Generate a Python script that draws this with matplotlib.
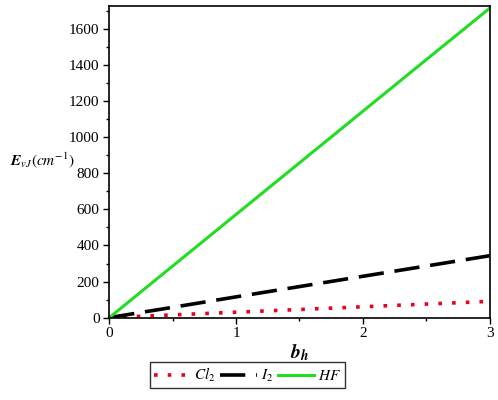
import numpy as np
import matplotlib
matplotlib.use("Agg")
import matplotlib.pyplot as plt
from matplotlib.ticker import MultipleLocator

# values at b_h = 0, 0.5, ..., 3
b_h = [0, 0.5, 1.0, 1.5, 2.0, 2.5, 3.0]
cl2 = [0, 15, 30, 45, 60, 75, 90]
i2 = [0, 57, 115, 172, 229, 286, 343]
hf = [0, 286, 572, 858, 1144, 1430, 1715]

plt.rcParams["font.family"] = "Liberation Serif"
plt.rcParams["mathtext.fontset"] = "stix"

fig = plt.figure(figsize=(4.98, 4.0), dpi=100)
ax = fig.add_axes([0.2195, 0.206, 0.7635, 0.779])

ax.plot(b_h, cl2, color="#e8001c", lw=2.6, ls=(0, (1.0, 2.8)), label=r"$Cl_2$")
ax.plot(b_h, i2, color="black", lw=2.6, ls=(0, (7.0, 3.0)), label=r"$I_2$")
ax.plot(b_h, hf, color="#22dd22", lw=2.2, label=r"$HF$")

ax.set_xlim(0, 3)
ax.set_ylim(0, 1728)
ax.xaxis.set_major_locator(MultipleLocator(1))
ax.xaxis.set_minor_locator(MultipleLocator(0.5))
ax.yaxis.set_major_locator(MultipleLocator(200))
ax.yaxis.set_minor_locator(MultipleLocator(100))
ax.tick_params(which="major", length=4, width=1, labelsize=11, pad=3)
ax.tick_params(which="minor", length=2.5, width=1)
for s in ax.spines.values():
    s.set_linewidth(1.2)

fig.text(0.02, 0.6, r"$\mathbfit{E}_{vJ}(cm^{-1})$", fontsize=11, va="center", ha="left")
ax.set_xlabel(r"$\mathbfit{b}_{\mathbfit{h}}$", fontsize=14, labelpad=1)

fig.legend(loc="center", bbox_to_anchor=(0.497, 0.0625), ncol=3, frameon=True,
           fancybox=False, edgecolor="black", fontsize=11, handlelength=2.4,
           handletextpad=0.25, columnspacing=0.3, borderpad=0.25)

fig.savefig("out.png", dpi=100)
